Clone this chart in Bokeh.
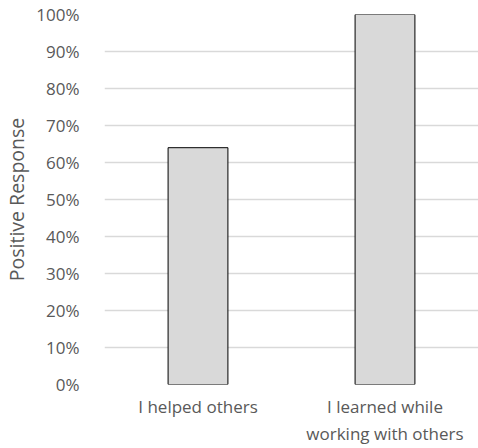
from bokeh.plotting import figure
from bokeh.models import ColumnDataSource, FixedTicker, NumeralTickFormatter, FactorRange, Range1d
from bokeh.embed import file_html
from bokeh.resources import INLINE

categories = ["I helped others", "I learned while\nworking with others"]
values = [0.64, 1.00]
y_ticks = [0.0, 0.1, 0.2, 0.3, 0.4, 0.5, 0.6, 0.7, 0.8, 0.9, 1.0]

FONT = "Open Sans"
TEXT = "#595959"

source = ColumnDataSource(data=dict(cat=categories, val=values))

p = figure(width=478, height=448, x_range=FactorRange(factors=categories, range_padding=0),
           y_range=Range1d(0, 1.0), output_backend="svg", toolbar_location=None,
           min_border_left=104, min_border_right=0, min_border_top=14, min_border_bottom=63)

p.vbar(x="cat", top="val", width=0.32, source=source, fill_color="#d9d9d9",
       line_color="black", line_width=1)

p.outline_line_color = None
p.xgrid.grid_line_color = None
p.ygrid.grid_line_color = "#d9d9d9"
p.ygrid.grid_line_width = 1.5

p.yaxis.ticker = FixedTicker(ticks=y_ticks)
p.yaxis.formatter = NumeralTickFormatter(format="0%")
p.yaxis.axis_label = "Positive Response"

for ax in (p.xaxis[0], p.yaxis[0]):
    ax.axis_line_color = None
    ax.major_tick_line_color = None
    ax.minor_tick_line_color = None
    ax.major_label_text_font = FONT
    ax.major_label_text_font_size = "17px"
    ax.major_label_text_color = TEXT
    ax.axis_label_text_font = FONT
    ax.axis_label_text_font_size = "19.5px"
    ax.axis_label_text_color = TEXT
    ax.axis_label_text_font_style = "normal"

p.yaxis.major_label_standoff = 19
p.yaxis.axis_label_standoff = 3
p.xaxis.major_label_standoff = 4

open("out.html", "w").write(file_html(p, INLINE))
